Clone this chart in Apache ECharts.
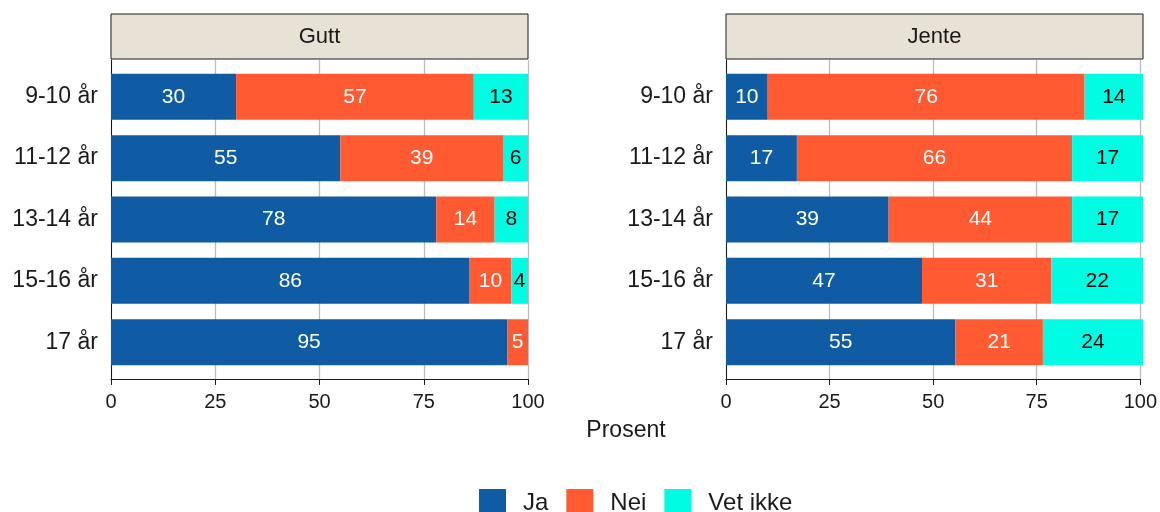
<!DOCTYPE html>
<html>
<head>
<meta charset="utf-8">
<script src="https://cdn.jsdelivr.net/npm/echarts@6/dist/echarts.min.js"></script>
<style>
  html, body { margin: 0; padding: 0; background: #fff; }
  #main { width: 1160px; height: 512px; }
</style>
</head>
<body>
<div id="main"></div>
<script>
var categories = ['9-10 år', '11-12 år', '13-14 år', '15-16 år', '17 år'];
var panels = ['Gutt', 'Jente'];
var seriesNames = ['Ja', 'Nei', 'Vet ikke'];
var colors = ['#0F5CA4', '#FF5A31', '#00FCE2'];
var xTicks = [0, 25, 50, 75, 100];

// Gutt
var guttJa = [30, 55, 78, 86, 95];
var guttNei = [57, 39, 14, 10, 5];
var guttVet = [13, 6, 8, 4, 0];
// Jente
var jenteJa = [10, 17, 39, 47, 55];
var jenteNei = [76, 66, 44, 31, 21];
var jenteVet = [14, 17, 17, 22, 24];

var myChart = echarts.init(document.getElementById('main'));
var font = "'Liberation Sans', Arial, sans-serif";

// panel positions (px)
var panelLeft = [111, 726];
var panelWidth = 417;
var panelTop = 60, panelHeight = 319;
var unit = panelHeight / 5.2;   // ggplot discrete expansion 0.6

var grids = [], xAxes = [], yAxes = [], series = [], graphics = [];

panels.forEach(function (p, i) {
    // background grid: gridlines, x axis, left axis line
    grids.push({ left: panelLeft[i], width: panelWidth, top: panelTop, height: panelHeight });
    xAxes.push({
        gridIndex: i * 2, type: 'value', min: xTicks[0], max: xTicks[xTicks.length - 1], interval: 25,
        axisLine: { show: true, lineStyle: { color: '#1a1a1a', width: 1 } },
        axisTick: { show: true, length: 6, lineStyle: { color: '#1a1a1a' } },
        axisLabel: { fontSize: 20, color: '#1a1a1a', fontFamily: font, margin: 13 },
        splitLine: { show: true, lineStyle: { color: '#BDBDBD', width: 1.3 } }
    });
    yAxes.push({
        gridIndex: i * 2, type: 'value', min: 0, max: 1,
        axisLine: { show: true, lineStyle: { color: '#1a1a1a', width: 1 } },
        axisTick: { show: false }, axisLabel: { show: false }, splitLine: { show: false }
    });
    // bar grid
    grids.push({ left: panelLeft[i], width: panelWidth, top: panelTop + unit * 0.1, height: unit * 5 });
    xAxes.push({ gridIndex: i * 2 + 1, type: 'value', min: 0, max: 100, show: false });
    yAxes.push({
        gridIndex: i * 2 + 1, type: 'category', inverse: true, data: categories,
        axisLine: { show: false }, axisTick: { show: false },
        axisLabel: { fontSize: 23, color: '#1a1a1a', fontFamily: font, margin: 13 }
    });

    var vals = i === 0 ? [guttJa, guttNei, guttVet] : [jenteJa, jenteNei, jenteVet];
    seriesNames.forEach(function (name, k) {
        series.push({
            name: name, type: 'bar', stack: p,
            xAxisIndex: i * 2 + 1, yAxisIndex: i * 2 + 1,
            barWidth: 46,
            itemStyle: { color: colors[k] },
            label: {
                show: true, position: 'inside',
                color: k === 2 ? '#000' : '#fff',
                fontSize: 21, fontFamily: font,
                formatter: function (d) { return d.value > 0 ? d.value : ''; }
            },
            data: vals[k]
        });
    });

    // strip header
    graphics.push({
        type: 'rect',
        shape: { x: panelLeft[i], y: 14, width: panelWidth, height: 45 },
        style: { fill: '#E8E2D6', stroke: '#1a1a1a', lineWidth: 1 }
    });
    graphics.push({
        type: 'text', x: panelLeft[i] + panelWidth / 2, y: 37,
        style: { text: p, fontSize: 22, fontFamily: font, fill: '#1a1a1a', textAlign: 'center', textVerticalAlign: 'middle' }
    });
});

graphics.push({
    type: 'text', x: 626, y: 431,
    style: { text: 'Prosent', fontSize: 23, fontFamily: font, fill: '#1a1a1a', textAlign: 'center', textVerticalAlign: 'middle' }
});

option = {
    animation: false,
    grid: grids,
    xAxis: xAxes,
    yAxis: yAxes,
    legend: {
        data: seriesNames,
        left: 479, top: 489, padding: 0,
        itemWidth: 27, itemHeight: 28, itemGap: 18,
        icon: 'rect',
        textStyle: { fontSize: 24, color: '#1a1a1a', fontFamily: font, padding: [0, 0, 0, 12] }
    },
    graphic: graphics,
    series: series
};
myChart.setOption(option);
</script>
</body>
</html>
